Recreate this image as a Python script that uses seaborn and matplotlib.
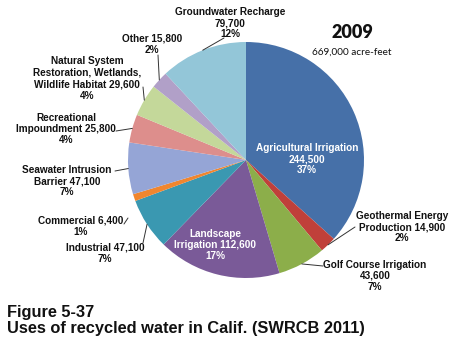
import numpy as np
import matplotlib
matplotlib.use("Agg")
import matplotlib.pyplot as plt
import seaborn as sns

# ---------------- data ----------------
categories = ["Agricultural Irrigation", "Geothermal Energy\nProduction", "Golf Course Irrigation",
              "Landscape\nIrrigation", "Industrial", "Commercial", "Seawater Intrusion\nBarrier",
              "Recreational\nImpoundment", "Natural System\nRestoration, Wetlands,\nWildlife Habitat",
              "Other", "Groundwater Recharge"]
values = [244500, 14900, 43600, 112600, 47100, 6400, 47100, 25800, 29600, 15800, 79700]
percents = [37, 2, 7, 17, 7, 1, 7, 4, 4, 2, 12]
name_value_sep = ["\n", " ", "\n", " ", " ", " ", " ", " ", " ", " ", "\n"]
colors = ["#4670a8", "#c0403a", "#8cae4a", "#7a5a98", "#3a98b1", "#f0862f",
          "#95a5d6", "#dd8e8c", "#c4d89a", "#b1a0c8", "#93c6d8"]
year_title = "2009"
total_text = "669,000 acre-feet"
caption = ["Figure 5-37", "Uses of recycled water in Calif. (SWRCB 2011)"]

# ---------------- layout ----------------
sns.set_theme(style="white")
plt.rcParams["font.family"] = ["Liberation Sans", "DejaVu Sans"]

W, H = 456, 338
fig = plt.figure(figsize=(W / 100, H / 100), dpi=100)
fig.patch.set_facecolor("white")

def P(x, y):
    return (x / W, 1 - y / H)

cx, cy, R = 246, 160, 118
ax = fig.add_axes([(cx - R) / W, (H - (cy + R)) / H, 2 * R / W, 2 * R / H])
wedges, _ = ax.pie(values, colors=colors, startangle=90, counterclock=False, radius=1,
                   wedgeprops=dict(linewidth=0))
ax.set_xlim(-1, 1)
ax.set_ylim(-1, 1)
ax.set_axis_off()

labels = [f"{c}{s}{v:,}\n{p}%" for c, s, v, p in zip(categories, name_value_sep, values, percents)]

# text block centres (pixels), colour, leader text-end (pixels) or None
text_pos = [(307, 159), (402, 227), (375, 276), (215, 245), (105, 253), (81, 226.5),
            (67, 181), (66, 129), (87, 78.5), (152, 44.5), (230, 23)]
text_col = ["white", "#111111", "#111111", "white"] + ["#111111"] * 7
leader_end = [None, (355, 227), (323, 266), None, (143, 243), (124, 224),
              (115, 171), (116, 131), (143, 87), (158, 55), (224, 38)]

fs = 7.2
for i, (lab, (tx, ty), col) in enumerate(zip(labels, text_pos, text_col)):
    fig.text(*P(tx, ty), lab, ha="center", va="center", ma="center", fontsize=fs,
             fontweight="bold", color=col, linespacing=1.18)
    if leader_end[i] is not None:
        w = wedges[i]
        ang = np.deg2rad((w.theta1 + w.theta2) / 2)
        xy = (np.cos(ang), np.sin(ang))
        if categories[i] == "Commercial":
            xy = ax.transData.inverted().transform(fig.transFigure.transform(P(128, 218)))
        ax.annotate("", xy=xy, xycoords="data", xytext=P(*leader_end[i]),
                    textcoords="figure fraction",
                    arrowprops=dict(arrowstyle="-", lw=0.7, color="#333333",
                                    shrinkA=0, shrinkB=0))

fig.text(*P(352, 33), year_title, ha="center", va="center", fontsize=13,
         fontweight="heavy", family=["Lato", "DejaVu Sans"], color="#111111")
fig.text(*P(352, 52), total_text, ha="center", va="center", fontsize=7.2,
         family=["Lato", "DejaVu Sans"], color="#111111")

fig.text(*P(7, 312), caption[0], ha="left", va="center", fontsize=11.8,
         fontweight="bold", color="#111111")
fig.text(*P(7, 328), caption[1], ha="left", va="center", fontsize=11.8,
         fontweight="bold", color="#111111")

fig.savefig("out.png", dpi=100, facecolor="white")
